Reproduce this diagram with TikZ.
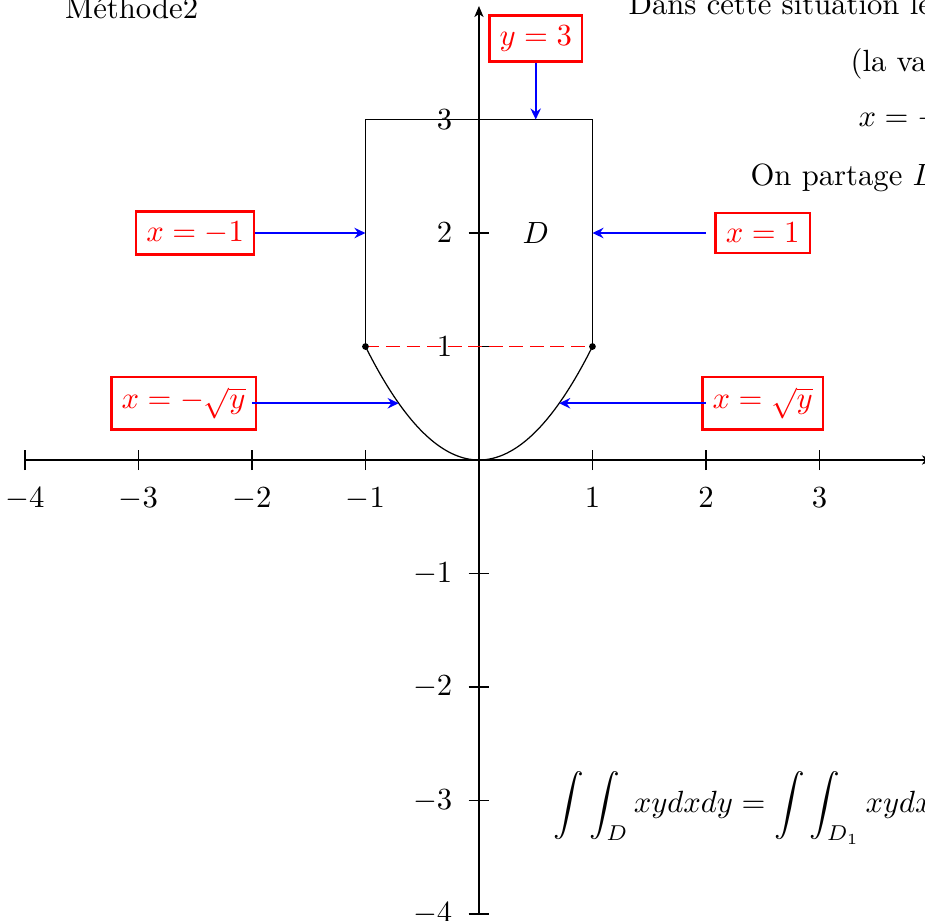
\documentclass[tikz,border=0pt]{standalone}
\usepackage{fontspec}
\usetikzlibrary{arrows.meta}
\begin{document}
\begin{tikzpicture}[x=1.3cm,y=1.3cm,
  lbl/.style={draw=red, thick, text=red, inner sep=3.33pt},
  arr/.style={blue, semithick, -{Stealth[length=3.6pt,width=3.4pt,inset=1.2pt]}},
  ax/.style={-{Stealth[length=3.6pt,width=3pt,inset=1pt]}},
  txt/.style={anchor=base west, inner sep=0pt},
]
\useasboundingbox (-4.22,-4.06) rectangle (3.93,4.053);
\clip (-4.22,-4.06) rectangle (3.93,4.053);
% axes
\draw[ax] (-4,0) -- (4,0);
\draw[ax] (0,-4) -- (0,4);
\foreach \i in {-4,-3,-2,-1,1,2,3} {
  \draw (\i,-0.09) -- (\i,0.09);
  \node[anchor=north] (tx\i) at (\i,-0.15) {$\i$};
}
\foreach \i in {-4,-3,-2,-1,1,2,3} {
  \draw (-0.09,\i) -- (0.09,\i);
  \node[anchor=east] (ty\i) at (-0.14,\i) {$\i$};
}
% domain
\draw (-1,1) -- (-1,3) -- (1,3) -- (1,1);
\draw[domain=-1:1, samples=80] plot (\x,{\x*\x});
\draw[red, semithick, dash pattern=on 4.5pt off 2.2pt] (-1,1) -- (1,1);
\fill (-1,1) circle (1.1pt);
\fill (1,1) circle (1.1pt);
\node (D) at (0.5,2) {$D$};
% labels
\node[lbl, anchor=south] (by3) at (0.5,3.5) {$y=3$};
\node[lbl] (bxm1) at (-2.5,2) {$x=-1$};
\node[lbl] (bx1) at (2.5,2) {$x=1$};
\node[lbl, anchor=east] (bxms) at (-1.955,0.5) {$x=-\sqrt{y}$};
\node[lbl] (bxs) at (2.5,0.5) {$x=\sqrt{y}$};
% connector ends
\coordinate (ty) at (0.5,3);
\coordinate (txm1) at (-1,2);
\coordinate (sx1) at (2,2);
\coordinate (tx1) at (1,2);
\coordinate (sxms) at (-2,0.5);
\coordinate (txms) at (-0.7071,0.5);
\coordinate (sxs) at (2,0.5);
\coordinate (txs) at (0.7071,0.5);
\draw[arr] (by3.south) -- (ty);
\draw[arr, thick] (bxm1.east) -- (txm1);
\draw[arr] (sx1) -- (tx1);
\draw[arr] (sxms) -- (txms);
\draw[arr] (sxs) -- (txs);
% texts
\node[anchor=base, inner sep=0pt] (m2) at (-3.06,3.894) {Méthode2};
\node[txt] (t1) at (1.313,3.921) {Dans cette situation le};
\node[txt] (t2) at (3.27,3.427) {(la va};
\node[txt] (t3) at (3.34,2.937) {$x=-$};
\node[txt] (t4) at (2.388,2.423) {On partage $D$};
\node[txt] (int) at (0.652,-3.11) {$\displaystyle \int\int_D xydxdy=\int\int_{D_1} xydx$};
\end{tikzpicture}
\end{document}
